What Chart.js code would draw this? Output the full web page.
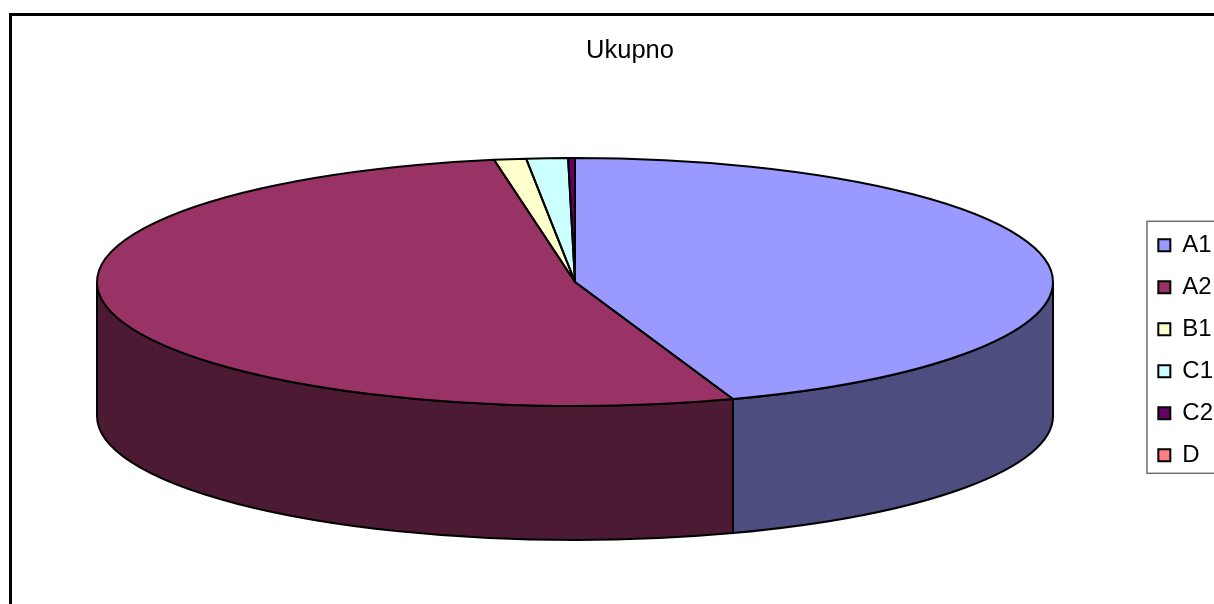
<!DOCTYPE html>
<html>
<head>
<meta charset="utf-8">
<title>Ukupno</title>
<script src="https://cdn.jsdelivr.net/npm/chart.js@4/dist/chart.umd.min.js"></script>
<style>
    html, body { margin: 0; padding: 0; width: 1214px; height: 604px; overflow: hidden; background: #fff; }
    #wrap { position: relative; width: 1223px; height: 614px; }
</style>
</head>
<body>
<div id="wrap"><canvas id="pie"></canvas></div>
<script>
const categories = ["A1", "A2", "B1", "C1", "C2", "D"];
const shares = [44.64, 52.65, 1.08, 1.40, 0.23, 0];
const topColors = ["#9999FF", "#993366", "#FFFFCC", "#CCFFFF", "#660066", "#FF8080"];
const sideColors = ["#4D4D80", "#4D1A33", "#808066", "#668080", "#330033", "#804040"];

// the flattened disc: the library lays out a round pie, this plugin tilts it
const disc = { cx: 575, cy: 282, rx: 478, ry: 124, depth: 134 };

const tiltedPie = {
    id: "tiltedPie",
    beforeDraw(chart) {
        const ctx = chart.ctx;
        ctx.save();
        ctx.strokeStyle = "#000";
        ctx.lineWidth = 3;
        ctx.strokeRect(10.5, 14.5, 1240, 620);
        ctx.restore();
    },
    beforeDatasetsDraw(chart) {
        const ctx = chart.ctx;
        const arcs = chart.getDatasetMeta(0).data;
        ctx.save();
        ctx.strokeStyle = "#000";
        ctx.lineWidth = 2;
        arcs.forEach((arc, i) => {
            // only the front half of the rim can be seen
            const a = Math.max(arc.startAngle, 0);
            const b = Math.min(arc.endAngle, Math.PI);
            if (b <= a) return;
            ctx.beginPath();
            ctx.ellipse(disc.cx, disc.cy, disc.rx, disc.ry, 0, a, b);
            ctx.ellipse(disc.cx, disc.cy + disc.depth, disc.rx, disc.ry, 0, b, a, true);
            ctx.closePath();
            ctx.fillStyle = sideColors[i];
            ctx.fill();
            ctx.stroke();
        });
        ctx.restore();

        const first = arcs[0];
        ctx.save();
        ctx.translate(disc.cx, disc.cy);
        ctx.scale(disc.rx / first.outerRadius, disc.ry / first.outerRadius);
        ctx.translate(-first.x, -first.y);
    },
    afterDatasetsDraw(chart) {
        const ctx = chart.ctx;
        ctx.restore();
        ctx.save();
        ctx.strokeStyle = "#000";
        ctx.lineWidth = 2;
        ctx.lineJoin = "round";
        chart.getDatasetMeta(0).data.forEach(arc => {
            if (arc.endAngle - arc.startAngle <= 0) return;
            ctx.beginPath();
            ctx.moveTo(disc.cx, disc.cy);
            ctx.ellipse(disc.cx, disc.cy, disc.rx, disc.ry, 0, arc.startAngle, arc.endAngle);
            ctx.closePath();
            ctx.stroke();
        });
        ctx.restore();
    },
    afterDraw(chart) {
        // legend frame, runs past the right edge of the picture
        const boxes = chart.legend.legendHitBoxes;
        const ctx = chart.ctx;
        const top = boxes[0].top - 12;
        const bottom = boxes[boxes.length - 1].top + boxes[boxes.length - 1].height + 6;
        ctx.save();
        ctx.strokeStyle = "#707070";
        ctx.lineWidth = 1.5;
        ctx.strokeRect(1147, top, 90, bottom - top);
        ctx.restore();
    }
};

new Chart(document.getElementById("pie"), {
    type: "pie",
    data: {
        labels: categories,
        datasets: [{
            data: shares,
            backgroundColor: topColors,
            borderWidth: 0,
            clip: false
        }]
    },
    options: {
        responsive: true,
        maintainAspectRatio: false,
        animation: false,
        // left padding keeps the title over the middle of the full frame
        layout: { padding: { left: 37 } },
        plugins: {
            tooltip: { enabled: false },
            title: {
                display: true,
                text: "Ukupno",
                color: "#000",
                font: { family: "Liberation Sans", size: 25.5, weight: "normal" },
                padding: { top: 36, bottom: 20 }
            },
            legend: {
                position: "right",
                fullSize: false,
                labels: {
                    color: "#000",
                    font: { family: "Liberation Sans", size: 24 },
                    boxWidth: 12,
                    boxHeight: 12,
                    padding: 18,
                    generateLabels(chart) {
                        return Chart.overrides.pie.plugins.legend.labels.generateLabels(chart).map(item => {
                            item.strokeStyle = "#000";
                            item.lineWidth = 2;
                            return item;
                        });
                    }
                }
            }
        }
    },
    plugins: [tiltedPie]
});
</script>
</body>
</html>
